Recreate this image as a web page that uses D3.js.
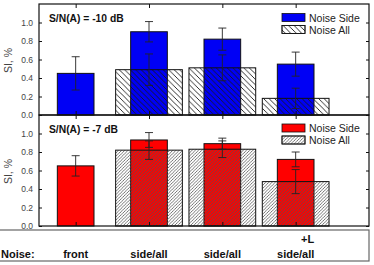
<!DOCTYPE html>
<html>
<head>
<meta charset="utf-8">
<script src="https://cdn.jsdelivr.net/npm/d3@7"></script>
<style>
  body { margin: 0; background: #fff; }
  svg { display: block; font-family: "Liberation Sans", Arial, sans-serif; }
</style>
</head>
<body>
<div id="chart"></div>
<script>
// categories along the x axis (last one has a two-line label)
var categories = ["front", "side/all", "side/all", "+L side/all"];
var yTicks = [0.0, 0.2, 0.4, 0.6, 0.8, 1.0];

// S/N(A) = -10 dB
var sideTop = [0.45, 0.90, 0.82, 0.55];
var sideTopErr = [0.18, 0.11, 0.12, 0.13];
var allTop = [null, 0.49, 0.51, 0.18];
var allTopErr = [null, 0.17, 0.14, 0.11];

// S/N(A) = -7 dB
var sideBot = [0.65, 0.93, 0.89, 0.72];
var sideBotErr = [0.11, 0.08, 0.06, 0.08];
var allBot = [null, 0.82, 0.83, 0.48];
var allBotErr = [null, 0.10, 0.09, 0.13];

var width = 374, height = 265;
var left = 39, right = 369;

var svg = d3.select("#chart").append("svg")
    .attr("width", width)
    .attr("height", height);

var defs = svg.append("defs");

// hatch patterns: transparent background, only lines
function hatch(id, spacing, dir, color, sw) {
    var p = defs.append("pattern")
        .attr("id", id)
        .attr("patternUnits", "userSpaceOnUse")
        .attr("width", spacing)
        .attr("height", spacing);
    var s = spacing;
    var d = dir === "back"
        ? "M0,0 L" + s + "," + s + " M" + (-s) + ",0 L0," + s + " M" + s + ",0 L" + (2 * s) + "," + s
        : "M0," + s + " L" + s + ",0 M" + (-s) + "," + s + " L0,0 M" + s + "," + s + " L" + (2 * s) + ",0";
    p.append("path").attr("d", d).attr("stroke", color).attr("stroke-width", sw);
}
hatch("hatchTop", 5.5, "back", "#1a1a1a", 0.9);
hatch("hatchBot", 3.2, "fwd", "#555", 0.8);

var x = d3.scaleLinear().domain([0.5, 5]).range([left, right]);
var narrow = 0.5, wide = 0.91;

function panel(y0, y1, side, sideErr, all, allErr, color, hatchId, label, legY) {
    var y = d3.scaleLinear().domain([0, 1.2]).range([y1, y0]);
    var g = svg.append("g");

    var idx = d3.range(categories.length);
    var withAll = idx.filter(function(i) { return all[i] != null; });

    // hatched bars (white background)
    g.selectAll(".allbg").data(withAll).enter().append("rect")
        .attr("x", function(i) { return x(i + 1 - wide / 2); })
        .attr("width", x(wide) - x(0))
        .attr("y", function(i) { return y(all[i]); })
        .attr("height", function(i) { return y(0) - y(all[i]); })
        .attr("fill", "#fff");

    // coloured bars
    g.selectAll(".side").data(idx).enter().append("rect")
        .attr("x", function(i) { return x(i + 1 - narrow / 2); })
        .attr("width", x(narrow) - x(0))
        .attr("y", function(i) { return y(side[i]); })
        .attr("height", function(i) { return y(0) - y(side[i]); })
        .attr("fill", color)
        .attr("stroke", "#111")
        .attr("stroke-width", 1);

    // hatch lines + outline on top
    g.selectAll(".allfg").data(withAll).enter().append("rect")
        .attr("x", function(i) { return x(i + 1 - wide / 2); })
        .attr("width", x(wide) - x(0))
        .attr("y", function(i) { return y(all[i]); })
        .attr("height", function(i) { return y(0) - y(all[i]); })
        .attr("fill", "url(#" + hatchId + ")")
        .attr("stroke", "#111")
        .attr("stroke-width", 1);

    // error bars
    function errors(vals, errs, col) {
        var d = idx.filter(function(i) { return vals[i] != null; });
        var eg = g.append("g").attr("stroke", col).attr("stroke-width", 0.9).attr("fill", "none");
        eg.selectAll("path").data(d).enter().append("path")
            .attr("d", function(i) {
                var cx = x(i + 1), hi = y(vals[i] + errs[i]), lo = y(vals[i] - errs[i]), c = 4;
                return "M" + cx + "," + hi + "V" + lo +
                    "M" + (cx - c) + "," + hi + "H" + (cx + c) +
                    "M" + (cx - c) + "," + lo + "H" + (cx + c);
            });
    }
    errors(all, allErr, "#222");
    errors(side, sideErr, "#222");

    // frame
    g.append("rect")
        .attr("x", left).attr("y", y0)
        .attr("width", right - left).attr("height", y1 - y0)
        .attr("fill", "none").attr("stroke", "#111").attr("stroke-width", 1.2);

    // left axis, ticks inward
    var ax = g.append("g").attr("transform", "translate(" + left + ",0)")
        .call(d3.axisLeft(y).tickValues(yTicks).tickFormat(d3.format(".1f")).tickSizeInner(-3).tickSizeOuter(0).tickPadding(6));
    ax.select(".domain").remove();
    ax.selectAll("line").attr("stroke", "#111");
    ax.selectAll("text").attr("font-size", 8.5).attr("fill", "#444").attr("font-family", "Liberation Sans, Arial, sans-serif");

    // right axis, ticks inward
    var ar = g.append("g").attr("transform", "translate(" + right + ",0)")
        .call(d3.axisRight(y).tickValues(yTicks).tickFormat("").tickSizeInner(-3).tickSizeOuter(0));
    ar.select(".domain").remove();
    ar.selectAll("line").attr("stroke", "#111");

    // top and bottom ticks at the categories
    var tickPos = idx.map(function(i) { return i + 1; });
    var at = g.append("g").attr("transform", "translate(0," + y0 + ")")
        .call(d3.axisTop(x).tickValues(tickPos).tickFormat("").tickSizeInner(-4).tickSizeOuter(0));
    at.select(".domain").remove();
    at.selectAll("line").attr("stroke", "#111");
    var ab = g.append("g").attr("transform", "translate(0," + y1 + ")")
        .call(d3.axisBottom(x).tickValues(tickPos).tickFormat("").tickSizeInner(-4).tickSizeOuter(0));
    ab.select(".domain").remove();
    ab.selectAll("line").attr("stroke", "#111");

    // y label
    g.append("text")
        .attr("transform", "translate(12," + ((y0 + y1) / 2 + 1) + ") rotate(-90)")
        .attr("text-anchor", "middle")
        .attr("font-size", 10.5)
        .attr("fill", "#444")
        .text("SI, %");

    // panel label
    g.append("text")
        .attr("x", 49).attr("y", y0 + 17.5)
        .attr("font-size", 10.3)
        .attr("font-weight", "bold")
        .attr("fill", "#111")
        .text(label);

    // legend
    var lg = g.append("g").attr("transform", "translate(282," + legY + ")");
    lg.append("rect").attr("width", 23).attr("height", 8)
        .attr("fill", color).attr("stroke", "#111").attr("stroke-width", 0.8);
    lg.append("text").attr("x", 27).attr("y", 8).attr("font-size", 10.5).attr("fill", "#222").text("Noise Side");
    lg.append("rect").attr("y", 12).attr("width", 23).attr("height", 8)
        .attr("fill", "#fff").attr("stroke", "#111").attr("stroke-width", 0.8);
    lg.append("rect").attr("y", 12).attr("width", 23).attr("height", 8)
        .attr("fill", "url(#" + hatchId + ")").attr("stroke", "#111").attr("stroke-width", 0.8);
    lg.append("text").attr("x", 27).attr("y", 20).attr("font-size", 10.5).attr("fill", "#222").text("Noise All");
}

panel(4, 115, sideTop, sideTopErr, allTop, allTopErr, "#0000f5", "hatchTop", "S/N(A) = -10 dB", 13.5);
panel(115, 226, sideBot, sideBotErr, allBot, allBotErr, "#ff0000", "hatchBot", "S/N(A) = -7 dB", 124);

// noise condition box under the panels
svg.append("rect")
    .attr("x", -5).attr("y", 230)
    .attr("width", right + 5).attr("height", 31)
    .attr("fill", "none").attr("stroke", "#666").attr("stroke-width", 1.2);

svg.append("text")
    .attr("x", 1).attr("y", 258)
    .attr("font-size", 11).attr("font-weight", "bold").attr("fill", "#111")
    .text("Noise:");

svg.selectAll(".cat").data(categories).enter().append("text")
    .attr("text-anchor", "middle")
    .attr("font-size", 11).attr("font-weight", "bold").attr("fill", "#111")
    .each(function(d, i) {
        var parts = d.split(" ");
        var t = d3.select(this);
        if (parts.length > 1) {
            t.append("tspan").attr("x", x(i + 1) + 12).attr("y", 243).text(parts[0]);
            t.append("tspan").attr("x", x(i + 1)).attr("y", 258).text(parts[1]);
        } else {
            t.append("tspan").attr("x", x(i + 1)).attr("y", 258).text(d);
        }
    });
</script>
</body>
</html>
